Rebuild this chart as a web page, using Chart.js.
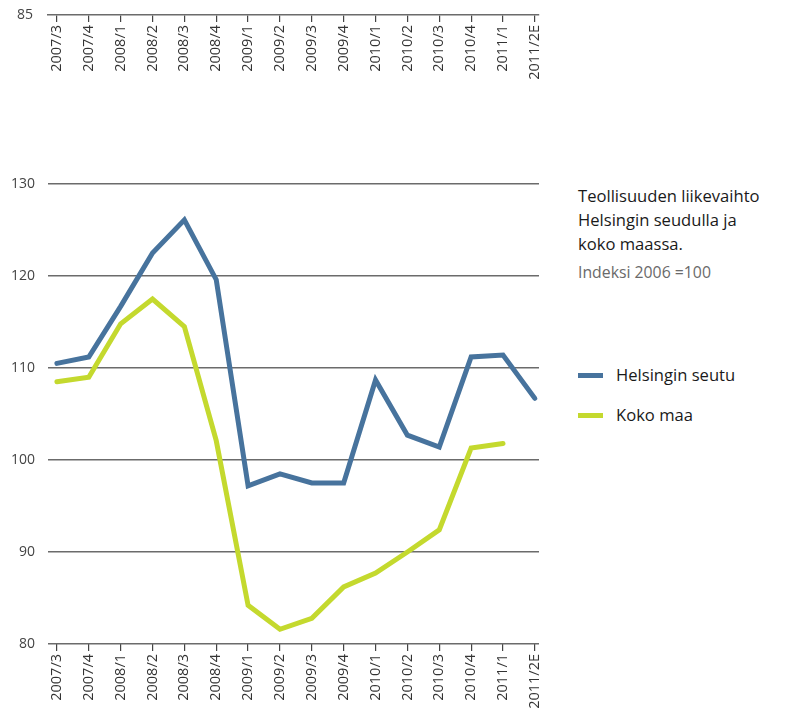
<!DOCTYPE html>
<html>
<head>
<meta charset="utf-8">
<script src="https://cdn.jsdelivr.net/npm/chart.js@4/dist/chart.umd.min.js"></script>
<style>
  html, body { margin: 0; padding: 0; background: #fff; overflow: hidden; }
  body { width: 790px; height: 713px; position: relative; font-family: "Open Sans", sans-serif; }
  .box { position: absolute; }
  #topBox { left: 0; top: 0; width: 560px; height: 105px; }
  #mainBox { left: 0; top: 170px; width: 560px; height: 554px; }
  #title { position: absolute; left: 578px; top: 184px; font-size: 16.6px; line-height: 24px; color: #1a1a1a; }
  #sub { position: absolute; left: 578px; top: 261px; font-size: 15.8px; color: #6a6a6a; }
  #legend { position: absolute; left: 578px; top: 364px; width: 200px; }
  .item { position: relative; height: 40px; font-size: 16.6px; color: #1a1a1a; white-space: nowrap; }
  .sw { position: absolute; left: 0; top: 9px; width: 25px; height: 5px; }
  .lbl { position: absolute; left: 38px; top: 0; line-height: 22px; }
</style>
</head>
<body>
<div class="box" id="topBox"><canvas id="topChart"></canvas></div>
<div class="box" id="mainBox"><canvas id="mainChart"></canvas></div>
<div id="title">Teollisuuden liikevaihto<br>Helsingin seudulla ja<br>koko maassa.</div>
<div id="sub">Indeksi 2006 =100</div>
<div id="legend"></div>
<script>
// kvartaalit
const quarters = ['2007/3', '2007/4', '2008/1', '2008/2', '2008/3', '2008/4', '2009/1', '2009/2',
                  '2009/3', '2009/4', '2010/1', '2010/2', '2010/3', '2010/4', '2011/1', '2011/2E'];
const helsinki = [110.5, 111.2, 116.7, 122.5, 126.1, 119.6, 97.2, 98.5, 97.5, 97.5, 108.7, 102.7, 101.4, 111.2, 111.4, 106.7];
const kokoMaa = [108.5, 109.0, 114.8, 117.5, 114.5, 102.1, 84.2, 81.6, 82.8, 86.2, 87.7, 90.0, 92.4, 101.3, 101.8, null];
const seriesNames = ['Helsingin seutu', 'Koko maa'];
const yTicks = [80, 90, 100, 110, 120, 130];

const blue = '#47739d';
const green = '#c4d92e';
const gridCol = '#6b6b6b';
const tickFont = { family: 'Open Sans', size: 14 };
const xFont = { family: 'Open Sans', size: 14.5 };

function points(arr) {
    return arr.map((v, i) => ({ x: i, y: v }));
}

// yhteinen x-akseli
function xAxis(height) {
    return {
        type: 'linear',
        min: -0.28,
        max: 15.13,
        afterBuildTicks: s => { s.ticks = quarters.map((q, i) => ({ value: i })); },
        afterFit: s => { s.height = height; },
        ticks: {
            autoSkip: false,
            minRotation: 90,
            maxRotation: 90,
            padding: 3,
            color: '#333',
            font: xFont,
            callback: v => quarters[v]
        },
        grid: { drawOnChartArea: false, drawTicks: true, tickLength: 7, color: '#444', lineWidth: 1.2 },
        border: { display: false }
    };
}

// ylhäällä oleva irrallinen akseli (85)
const topX = xAxis(90);
topX.border = { display: true, color: gridCol, width: 1.5 };
new Chart(document.getElementById('topChart'), {
    type: 'line',
    data: { datasets: [] },
    options: {
        responsive: true,
        maintainAspectRatio: false,
        animation: false,
        layout: { padding: { top: 8, right: 21, left: 0, bottom: 0 } },
        plugins: { legend: { display: false }, tooltip: { enabled: false } },
        scales: {
            x: topX,
            y: {
                min: 85,
                max: 86,
                afterFit: s => { s.width = 48; },
                afterBuildTicks: s => { s.ticks = [{ value: 85 }]; },
                ticks: { autoSkip: false, padding: 0, color: '#444', font: tickFont },
                grid: { display: true, drawOnChartArea: false, drawTicks: true, tickLength: 15, tickColor: 'rgba(0,0,0,0)' },
                border: { display: false }
            }
        }
    }
});

// pääkaavio
new Chart(document.getElementById('mainChart'), {
    type: 'line',
    data: {
        datasets: [
            { label: seriesNames[0], data: points(helsinki), borderColor: blue, backgroundColor: blue },
            { label: seriesNames[1], data: points(kokoMaa), borderColor: green, backgroundColor: green }
        ]
    },
    options: {
        responsive: true,
        maintainAspectRatio: false,
        animation: false,
        layout: { padding: { top: 14, right: 21, left: 0, bottom: 0 } },
        elements: {
            line: { borderWidth: 5, tension: 0, borderCapStyle: 'round', borderJoinStyle: 'miter' },
            point: { radius: 0 }
        },
        plugins: { legend: { display: false }, tooltip: { enabled: false } },
        scales: {
            x: xAxis(80),
            y: {
                min: 80,
                max: 130,
                afterFit: s => { s.width = 48; },
                afterBuildTicks: s => { s.ticks = yTicks.map(v => ({ value: v })); },
                ticks: { autoSkip: false, padding: 0, color: '#444', font: tickFont },
                grid: { drawTicks: true, tickLength: 13, tickColor: 'rgba(0,0,0,0)', color: gridCol, lineWidth: 1.5 },
                border: { display: false }
            }
        }
    }
});

// selite
const legend = document.getElementById('legend');
[blue, green].forEach((c, i) => {
    const item = document.createElement('div');
    item.className = 'item';
    item.innerHTML = '<span class="sw" style="background:' + c + '"></span><span class="lbl">' + seriesNames[i] + '</span>';
    legend.appendChild(item);
});
</script>
</body>
</html>
